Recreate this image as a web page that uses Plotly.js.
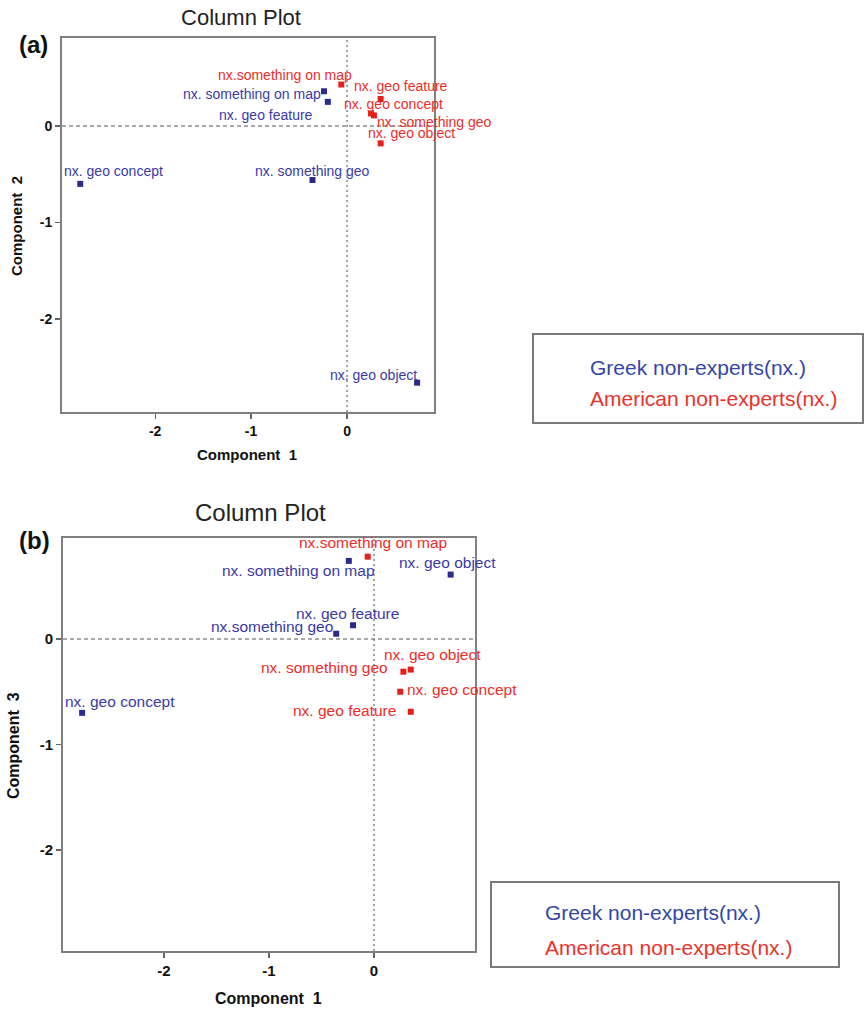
<!DOCTYPE html>
<html>
<head>
<meta charset="utf-8">
<script src="https://cdn.plot.ly/plotly-3.0.1.min.js"></script>
<style>html,body{margin:0;padding:0;background:#fff;}#chart{width:865px;height:1010px;}</style>
</head>
<body>
<div id="chart"></div>
<script>
// ---------------- data ----------------
var greekName = "Greek non-experts(nx.)";
var americanName = "American non-experts(nx.)";

// order: geo concept, something geo, something on map, geo feature, geo object
var greekLabelsA = ["nx. geo concept", "nx. something geo", "nx. something on map", "nx. geo feature", "nx. geo object"];
var americanLabelsA = ["nx. geo concept", "nx. something geo", "nx.something on map", "nx. geo feature", "nx. geo object"];
var greekLabelsB = ["nx. geo concept", "nx.something geo", "nx. something on map", "nx. geo feature", "nx. geo object"];
var americanLabelsB = ["nx. geo concept", "nx. something geo", "nx.something on map", "nx. geo feature", "nx. geo object"];

var greekComp1 = [-2.78, -0.36, -0.24, -0.20, 0.73];
var greekComp2 = [-0.60, -0.56, 0.36, 0.25, -2.66];
var greekComp3 = [-0.70, 0.05, 0.74, 0.13, 0.61];

var americanComp1 = [0.25, 0.28, -0.06, 0.35, 0.35];
var americanComp2 = [0.13, 0.11, 0.43, 0.28, -0.18];
var americanComp3 = [-0.50, -0.31, 0.78, -0.69, -0.29];

var tickVals = [-2, -1, 0];
var tickText = ["-2", "-1", "0"];

// ---------------- styles ----------------
var W = 865, H = 1010;
function px(x) { return x / W; }
function py(y) { return 1 - y / H; }
var FONT = "Liberation Sans, Arial, Helvetica, sans-serif";
var blueMarker = "#2b2b8e", blueText = "#3a3aa6";
var redMarker = "#e4201c", redText = "#ee2c28";
var legBlue = "#3346a8", legRed = "#e8332a";

// label placement (style): [xanchor, xshift, yshift]
var placeGreekA = [["left", -17, 13], ["center", 0, 9], ["right", -2, -3], ["right", -14, -13], ["right", 1, 8]];
var placeAmericanA = [["left", -28, 9], ["left", 2, -7], ["right", 12, 10], ["left", -28, 13], ["left", -14, 10]];
var placeGreekB = [["left", -18, 11], ["right", -2, 7], ["right", 27, -10], ["left", -58, 12], ["left", -53, 12]];
var placeAmericanB = [["left", 6, 2], ["right", -14, 4], ["left", -70, 14], ["right", -14, 1], ["left", -28, 15]];

var traces = [
  {x: greekComp1, y: greekComp2, xaxis: "x", yaxis: "y", mode: "markers", type: "scatter", name: greekName,
   marker: {symbol: "square", size: 6, color: blueMarker}, cliponaxis: false, hoverinfo: "x+y"},
  {x: americanComp1, y: americanComp2, xaxis: "x", yaxis: "y", mode: "markers", type: "scatter", name: americanName,
   marker: {symbol: "square", size: 6, color: redMarker}, cliponaxis: false, hoverinfo: "x+y"},
  {x: greekComp1, y: greekComp3, xaxis: "x2", yaxis: "y2", mode: "markers", type: "scatter", name: greekName,
   marker: {symbol: "square", size: 6, color: blueMarker}, cliponaxis: false, hoverinfo: "x+y"},
  {x: americanComp1, y: americanComp3, xaxis: "x2", yaxis: "y2", mode: "markers", type: "scatter", name: americanName,
   marker: {symbol: "square", size: 6, color: redMarker}, cliponaxis: false, hoverinfo: "x+y"}
];

var annotations = [];
function addLabels(xs, ys, labels, place, xref, yref, color, size) {
  for (var i = 0; i < xs.length; i++) {
    annotations.push({
      x: xs[i], y: ys[i], xref: xref, yref: yref, text: labels[i], showarrow: false,
      xanchor: place[i][0], yanchor: "middle", xshift: place[i][1], yshift: place[i][2],
      font: {family: FONT, size: size, color: color}, borderpad: 0
    });
  }
}
addLabels(greekComp1, greekComp2, greekLabelsA, placeGreekA, "x", "y", blueText, 14);
addLabels(americanComp1, americanComp2, americanLabelsA, placeAmericanA, "x", "y", redText, 14);
addLabels(greekComp1, greekComp3, greekLabelsB, placeGreekB, "x2", "y2", blueText, 15.5);
addLabels(americanComp1, americanComp3, americanLabelsB, placeAmericanB, "x2", "y2", redText, 15.5);

function paperText(text, x, y, size, color, opts) {
  var a = {xref: "paper", yref: "paper", x: px(x), y: py(y), text: text, showarrow: false,
    xanchor: "center", yanchor: "middle", font: {family: FONT, size: size, color: color}};
  for (var k in (opts || {})) a[k] = opts[k];
  return a;
}
// panel letters
annotations.push(paperText("(a)", 33, 44, 24, "#111", {font: {family: FONT, size: 24, color: "#111", weight: "bold"}}));
annotations.push(paperText("(b)", 34, 540, 24, "#111", {font: {family: FONT, size: 24, color: "#111", weight: "bold"}}));
// second title
annotations.push(paperText("Column Plot", 260, 512, 24, "#222"));
// axis titles
annotations.push(paperText("Component\u00a0 1", 247, 455, 15, "#111", {font: {family: FONT, size: 15, color: "#111", weight: "bold"}}));
annotations.push(paperText("Component\u00a0 2", 17, 226, 15, "#111", {textangle: -90, font: {family: FONT, size: 15, color: "#111", weight: "bold"}}));
annotations.push(paperText("Component\u00a0 1", 268, 998, 16, "#111", {font: {family: FONT, size: 16, color: "#111", weight: "bold"}}));
annotations.push(paperText("Component\u00a0 3", 13, 746, 16, "#111", {textangle: -90, font: {family: FONT, size: 16, color: "#111", weight: "bold"}}));
// legends
annotations.push(paperText(greekName, 588, 367, 21, legBlue, {xanchor: "left"}));
annotations.push(paperText(americanName, 588, 398, 21, legRed, {xanchor: "left"}));
annotations.push(paperText(greekName, 543, 912, 21, legBlue, {xanchor: "left"}));
annotations.push(paperText(americanName, 543, 947, 21, legRed, {xanchor: "left"}));

var shapes = [
  // zero lines panel a
  {type: "line", xref: "x", yref: "y domain", x0: 0, x1: 0, y0: 0, y1: 1, line: {color: "#666", width: 1.2, dash: "2px,3px"}},
  {type: "line", xref: "x domain", yref: "y", x0: 0, x1: 1, y0: 0, y1: 0, line: {color: "#555", width: 1.2, dash: "4px,3px"}},
  // zero lines panel b
  {type: "line", xref: "x2", yref: "y2 domain", x0: 0, x1: 0, y0: 0, y1: 1, line: {color: "#666", width: 1.2, dash: "2px,3px"}},
  {type: "line", xref: "x2 domain", yref: "y2", x0: 0, x1: 1, y0: 0, y1: 0, line: {color: "#555", width: 1.2, dash: "4px,3px"}},
  // legend boxes
  {type: "rect", xref: "paper", yref: "paper", x0: px(533), x1: px(863), y0: py(334), y1: py(423), line: {color: "#7a7a7a", width: 2}, fillcolor: "rgba(0,0,0,0)"},
  {type: "rect", xref: "paper", yref: "paper", x0: px(491), x1: px(839), y0: py(882), y1: py(967), line: {color: "#7a7a7a", width: 2}, fillcolor: "rgba(0,0,0,0)"}
];

function axisStyle(domain, range, anchor, size) {
  return {
    domain: domain, range: range, anchor: anchor, autorange: false,
    tickmode: "array", tickvals: tickVals, ticktext: tickText,
    ticks: "outside", ticklen: 5, tickwidth: 1.2, tickcolor: "#666",
    tickfont: {family: FONT, size: size, color: "#111", weight: "bold"},
    showgrid: false, zeroline: false, showline: true, mirror: true,
    linecolor: "#808080", linewidth: 2, fixedrange: true
  };
}

var layout = {
  width: W, height: H,
  margin: {l: 0, r: 0, t: 0, b: 0},
  paper_bgcolor: "#fff", plot_bgcolor: "#fff",
  showlegend: false,
  title: {text: "Column Plot", x: px(241), y: py(17), xref: "paper", yref: "paper", xanchor: "center", yanchor: "middle",
          font: {family: FONT, size: 22, color: "#222"}},
  xaxis: axisStyle([px(62), px(434)], [-2.97, 0.906], "y", 14),
  yaxis: axisStyle([py(412), py(38)], [-2.964, 0.912], "x", 14),
  xaxis2: axisStyle([px(63), px(475)], [-2.962, 0.962], "y2", 15),
  yaxis2: axisStyle([py(951), py(538)], [-2.957, 0.957], "x2", 15),
  annotations: annotations,
  shapes: shapes
};

Plotly.newPlot("chart", traces, layout, {displayModeBar: false, staticPlot: true});
</script>
</body>
</html>
